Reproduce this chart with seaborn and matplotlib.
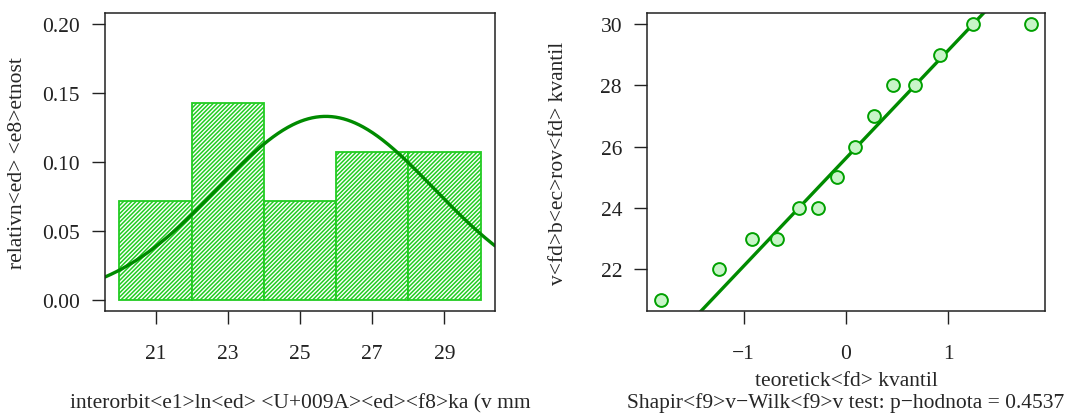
import numpy as np
import pandas as pd
import matplotlib
matplotlib.use("Agg")
import matplotlib.pyplot as plt
import seaborn as sns
from statistics import NormalDist

# ---- data ----
values = [21, 22, 23, 23, 24, 24, 25, 26, 27, 28, 28, 29, 30, 30]
theoretical_q = [-1.803, -1.242, -0.921, -0.674, -0.464, -0.272, -0.090,
                 0.090, 0.272, 0.464, 0.674, 0.921, 1.242, 1.803]
bin_edges = [20, 22, 24, 26, 28, 30]
hist_xticks = [21, 23, 25, 27, 29]
density_yticks = [0.00, 0.05, 0.10, 0.15, 0.20]
density_yticklabels = ["0.00", "0.05", "0.10", "0.15", "0.20"]
qq_xticks = [-1, 0, 1]
qq_yticks = [22, 24, 26, 28, 30]
xlabel_left = "interorbit<e1>ln<ed> <U+009A><ed><f8>ka (v mm"
ylabel_left = "relativn<ed> <e8>etnost"
xlabel_right = "teoretick<fd> kvantil"
ylabel_right = "v<fd>b<ec>rov<fd> kvantil"
test_text = "Shapir<f9>v\u2212Wilk<f9>v test: p\u2212hodnota = 0.4537"

# ---- style ----
sns.set_style("ticks")
plt.rcParams["font.family"] = ["Liberation Serif", "DejaVu Serif"]
plt.rcParams["font.size"] = 15.5
plt.rcParams["hatch.linewidth"] = 1.1
plt.rcParams["axes.unicode_minus"] = True

FS = 15.5
BAR_GREEN = "#22cc22"
DARK_GREEN = "#008b00"

fig = plt.figure(figsize=(10.70, 4.14), dpi=100)
ax1 = fig.add_axes([105 / 1070, 1 - 312 / 414, 390 / 1070, 298 / 414])
ax2 = fig.add_axes([647 / 1070, 1 - 312 / 414, 398 / 1070, 298 / 414])

# ---- left: histogram (R-style right-closed bins) + normal curve ----
cats = pd.cut(pd.Series(values), bins=bin_edges, right=True, include_lowest=True)
counts = cats.value_counts(sort=False).values
mids = [(a + b) / 2 for a, b in zip(bin_edges[:-1], bin_edges[1:])]
sns.histplot(x=mids, weights=counts, bins=bin_edges, stat="density",
             color="white", edgecolor=BAR_GREEN, linewidth=1.3, alpha=1,
             hatch="////////", ax=ax1)
for p in ax1.patches:
    p.set_facecolor("white")
    p.set_edgecolor(BAR_GREEN)
    p.set_hatch("////////")

mean = float(np.mean(values))
sd = float(np.std(values, ddof=1))
xs = np.linspace(19.6, 30.4, 400)
pdf = [NormalDist(mean, sd).pdf(x) for x in xs]
sns.lineplot(x=xs, y=pdf, color=DARK_GREEN, linewidth=2.4, ax=ax1)

ax1.set_xlim(19.6, 30.4)
ax1.set_ylim(-0.008, 0.208)
ax1.set_xticks(hist_xticks)
ax1.set_yticks(density_yticks)
ax1.set_yticklabels(density_yticklabels)
ax1.set_xlabel("")
ax1.set_ylabel(ylabel_left, fontsize=FS)
ax1.yaxis.set_label_coords(-0.200, 0.5)

# ---- right: QQ plot + qqline ----
sns.scatterplot(x=theoretical_q, y=values, s=85, color="#c8f5c8",
                edgecolor="#00a000", linewidth=1.4, ax=ax2, zorder=3)
q1, q3 = np.quantile(values, [0.25, 0.75])
z1, z3 = NormalDist().inv_cdf(0.25), NormalDist().inv_cdf(0.75)
slope = (q3 - q1) / (z3 - z1)
intercept = q1 - slope * z1
lx = np.array([-2.2, 2.2])
sns.lineplot(x=lx, y=intercept + slope * lx, color=DARK_GREEN, linewidth=2.4,
             ax=ax2, zorder=2)
ax2.set_xlim(-1.944, 1.944)
ax2.set_ylim(20.64, 30.36)
ax2.set_xticks(qq_xticks)
ax2.set_yticks(qq_yticks)
ax2.set_xlabel("")
ax2.set_ylabel(ylabel_right, fontsize=FS)
ax2.yaxis.set_label_coords(-0.1985, 0.5)

for ax in (ax1, ax2):
    for s in ax.spines.values():
        s.set_visible(True)
        s.set_linewidth(1.1)
        s.set_color("#222222")
    ax.tick_params(axis="both", direction="out", length=9.5, width=1.0,
                   labelsize=FS, colors="#222222")
    ax.tick_params(axis="x", pad=14)
    ax.tick_params(axis="y", pad=8.5)
    ax.set_facecolor("white")

fig.text(300 / 1070, 1 - 408 / 414, xlabel_left, ha="center", va="baseline",
         fontsize=FS)
fig.text(846 / 1070, 1 - 386 / 414, xlabel_right, ha="center", va="baseline",
         fontsize=FS)
fig.text(846 / 1070, 1 - 408 / 414, test_text, ha="center", va="baseline",
         fontsize=FS)

fig.savefig("out.png", dpi=100, facecolor="white")
